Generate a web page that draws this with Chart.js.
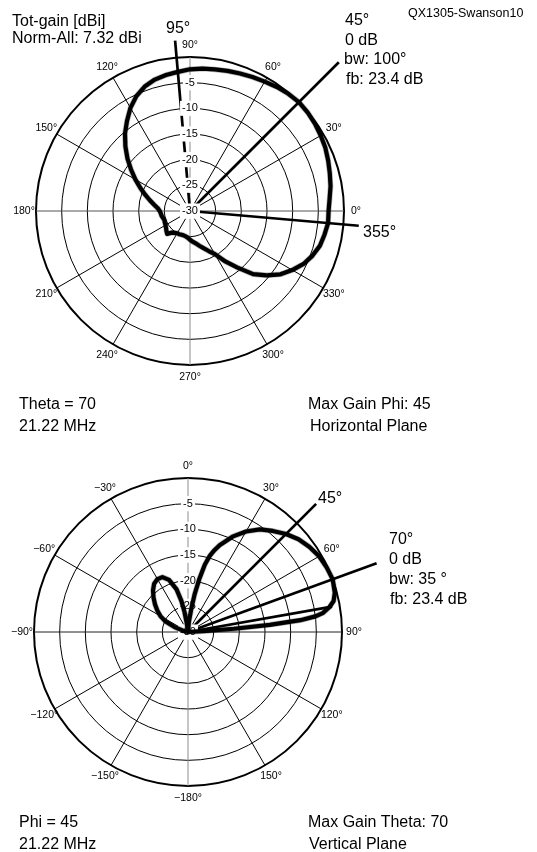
<!DOCTYPE html>
<html><head><meta charset="utf-8">
<script src="https://cdn.jsdelivr.net/npm/chart.js@4.4.1/dist/chart.umd.min.js"></script>
<style>
html,body{margin:0;padding:0;background:#fff;}
body{width:537px;height:852px;position:relative;overflow:hidden;font-family:"Liberation Sans",Arial,sans-serif;color:#000;}
canvas{position:absolute;left:0;}
.t{position:absolute;white-space:nowrap;font-size:16px;line-height:16px;}
.s{font-size:12.5px;line-height:12px;}
</style></head><body>
<canvas id="az" width="537" height="430" style="top:0;width:537px;height:430px"></canvas>
<canvas id="el" width="537" height="422" style="top:430px;width:537px;height:422px"></canvas>

<div class="t" style="left:12px;top:13px">Tot-gain [dBi]</div>
<div class="t" style="left:12px;top:30px">Norm-All: 7.32 dBi</div>
<div class="t s" style="left:408px;top:7px">QX1305-Swanson10</div>
<div class="t" style="left:166px;top:20px">95°</div>
<div class="t" style="left:345px;top:12px">45°</div>
<div class="t" style="left:345px;top:32px">0 dB</div>
<div class="t" style="left:344px;top:51px">bw: 100°</div>
<div class="t" style="left:346px;top:71px">fb: 23.4 dB</div>
<div class="t" style="left:363px;top:224px">355°</div>
<div class="t" style="left:19px;top:396px">Theta = 70</div>
<div class="t" style="left:19px;top:418px">21.22 MHz</div>
<div class="t" style="left:308px;top:396px">Max Gain Phi: 45</div>
<div class="t" style="left:310px;top:418px">Horizontal Plane</div>

<div class="t" style="left:318px;top:490px">45°</div>
<div class="t" style="left:389px;top:531px">70°</div>
<div class="t" style="left:389px;top:551px">0 dB</div>
<div class="t" style="left:389px;top:571px">bw: 35 °</div>
<div class="t" style="left:390px;top:591px">fb: 23.4 dB</div>
<div class="t" style="left:19px;top:814px">Phi = 45</div>
<div class="t" style="left:19px;top:836px">21.22 MHz</div>
<div class="t" style="left:308px;top:814px">Max Gain Theta: 70</div>
<div class="t" style="left:309px;top:836px">Vertical Plane</div>

<script>
// ---------- Horizontal plane (azimuth, phi in degrees, CCW from right) ----------
const azAngles = [0,5,10,15,20,25,30,35,40,45,50,55,60,65,70,75,80,85,90,95,100,105,110,115,120,125,130,135,140,145,150,155,160,165,170,175,180,185,190,195,200,205,210,215,220,225,230,235,240,245,250,255,260,265,270,275,280,285,290,295,300,305,310,315,320,325,330,335,340,345,350,355];
const azGain = [-3.0,-2.7,-2.2,-1.8,-1.35,-0.9,-0.6,-0.3,-0.1,0,-0.2,-0.5,-0.9,-1.2,-1.5,-1.75,-2.0,-2.15,-2.4,-2.8,-3.1,-3.5,-4.2,-5.3,-6.8,-8.6,-10.3,-12.2,-14.1,-16.0,-17.7,-19.3,-20.7,-21.9,-22.9,-23.7,-24.1,-24.3,-24.4,-24.6,-24.7,-24.6,-24.5,-24.3,-24.0,-23.7,-24.5,-24.8,-25.0,-25.0,-25.1,-25.1,-25.0,-24.8,-24.4,-24.0,-23.6,-23.0,-22.3,-21.4,-20.3,-18.0,-15.6,-12.6,-10.5,-8.5,-7.0,-5.6,-4.6,-3.8,-3.4,-3.0];
const azTickAngles = [0,30,60,90,120,150,180,210,240,270,300,330];
const azMarkAngles = [95,45,355];
const azMarkReach = [3.3,11,3.0];

// ---------- Vertical plane (elevation, theta in degrees, CW from zenith) ----------
const elAngles = [-80,-75,-70,-65,-60,-55,-50,-45,-40,-35,-30,-25,-20,-15,-12,-10,-8,-6,2,5,8,10,12,14,16,18,20,25,30,35,40,45,50,55,60,65,70,75,78,80,82,83,84,85,86,87,88];
const elGain = [-30,-29,-27.2,-25.2,-23.8,-22.7,-21.6,-20.5,-19.4,-18.5,-18.1,-18.2,-19.2,-21.4,-23.8,-26.0,-28.3,-30,-30,-28,-25.5,-22.5,-19.5,-16.5,-14.5,-13.2,-12.0,-9.5,-7.4,-5.6,-4.3,-3.0,-1.9,-1.1,-0.5,-0.2,0,-0.4,-1.0,-2.0,-3.5,-5.0,-8.0,-14.0,-21.0,-27.0,-30];
const elTickAngles = [0,30,60,90,120,150,-180,-150,-120,-90,-60,-30];
const elMarkAngles = [45,70,80];
const elMarkReach = [5.3,9.1,-1.5];

const ringMin = -30, ringMax = 0, ringStep = 5;
const FONT = '"Liberation Sans", Arial, sans-serif';

function makePolar(id, labels, angleArr, gainArr, tickAngles, fmt, markAngles, markReach, idxOf, padding, axisColor) {
  const data = labels.map(a => { const k = angleArr.indexOf(a); return k < 0 ? null : gainArr[k]; });
  const marks = {
    id: 'marks_' + id,
    beforeDatasetsDraw(chart) {
      const s = chart.scales.r, ctx = chart.ctx;
      ctx.save();
      ctx.strokeStyle = '#000';
      ctx.lineWidth = 2.7;
      markAngles.forEach((a, k) => {
        const i = idxOf(a);
        const p0 = s.getPointPositionForValue(i, s.min);
        const p1 = s.getPointPositionForValue(i, markReach[k]);
        ctx.beginPath(); ctx.moveTo(p0.x, p0.y); ctx.lineTo(p1.x, p1.y); ctx.stroke();
      });
      ctx.restore();
      s.drawLabels();
      ctx.save();
      ctx.font = '10.5px ' + FONT;
      ctx.fillStyle = '#000';
      ctx.textAlign = 'center';
      ctx.textBaseline = 'middle';
      tickAngles.forEach(a => {
        const p = s.getPointPosition(idxOf(a), s.drawingArea + 12);
        ctx.fillText(fmt(a), p.x, p.y);
      });
      ctx.restore();
    }
  };
  const line = (color, w) => ({data, borderColor: color, borderWidth: w, pointRadius: 0, pointHoverRadius: 0, fill: false, spanGaps: true, tension: 0});
  return new Chart(document.getElementById(id), {
    type: 'radar',
    data: {labels, datasets: [line('rgba(0,0,0,0.28)', 5.6), line('#000', 4.2)]},
    options: {
      responsive: false, animation: false, devicePixelRatio: 1, events: [],
      layout: {padding},
      elements: {line: {borderJoinStyle: 'round', borderCapStyle: 'round'}},
      plugins: {legend: {display: false}, tooltip: {enabled: false}},
      scales: {r: {
        min: ringMin, max: ringMax, startAngle: 0, beginAtZero: false,
        ticks: {stepSize: ringStep, color: '#000', font: {family: FONT, size: 11},
          backdropColor: c => (c.tick && c.tick.value === ringMax) ? 'rgba(0,0,0,0)' : '#fff',
          backdropPadding: 2, showLabelBackdrop: true,
          callback: v => v === ringMax ? '' : String(v)},
        grid: {circular: true, color: '#000', lineWidth: c => (c.tick && c.tick.value === ringMax) ? 2 : 1},
        angleLines: {display: true,
          color: c => { const a = labels[c.index]; return (a % 30 === 0) ? axisColor(a) : 'rgba(0,0,0,0)'; },
          lineWidth: c => (labels[c.index] % 30 === 0) ? 1 : 0},
        pointLabels: {display: false}
      }}
    },
    plugins: [marks]
  });
}

// top chart: index i -> phi = 90 - i (clockwise from top)
const azIdx = a => ((90 - a) % 360 + 360) % 360;
const azLabels = Array.from({length: 360}, (_, i) => ((90 - i) % 360 + 360) % 360);
makePolar('az', azLabels, azAngles, azGain, azTickAngles, a => a + '°', azMarkAngles, azMarkReach, azIdx,
  {left: 28, top: 49, right: 185, bottom: 57},
  a => (a === 90 || a === 270) ? '#8c8c8c' : (a === 0 || a === 180) ? '#555' : '#000');

// bottom chart: index i -> theta = i (clockwise from top), shown as -180..179
const elIdx = a => ((a % 360) + 360) % 360;
const elLabels = Array.from({length: 360}, (_, i) => i < 180 ? i : i - 360);
makePolar('el', elLabels, elAngles, elGain, elTickAngles, a => (a < 0 ? '\u2212' + (-a) : a) + '°', elMarkAngles, elMarkReach, elIdx,
  {left: 26, top: 40, right: 187, bottom: 58},
  a => (a === 0 || a === -180) ? '#8c8c8c' : (a === 90 || a === -90) ? '#222' : '#000');
</script>
</body></html>
